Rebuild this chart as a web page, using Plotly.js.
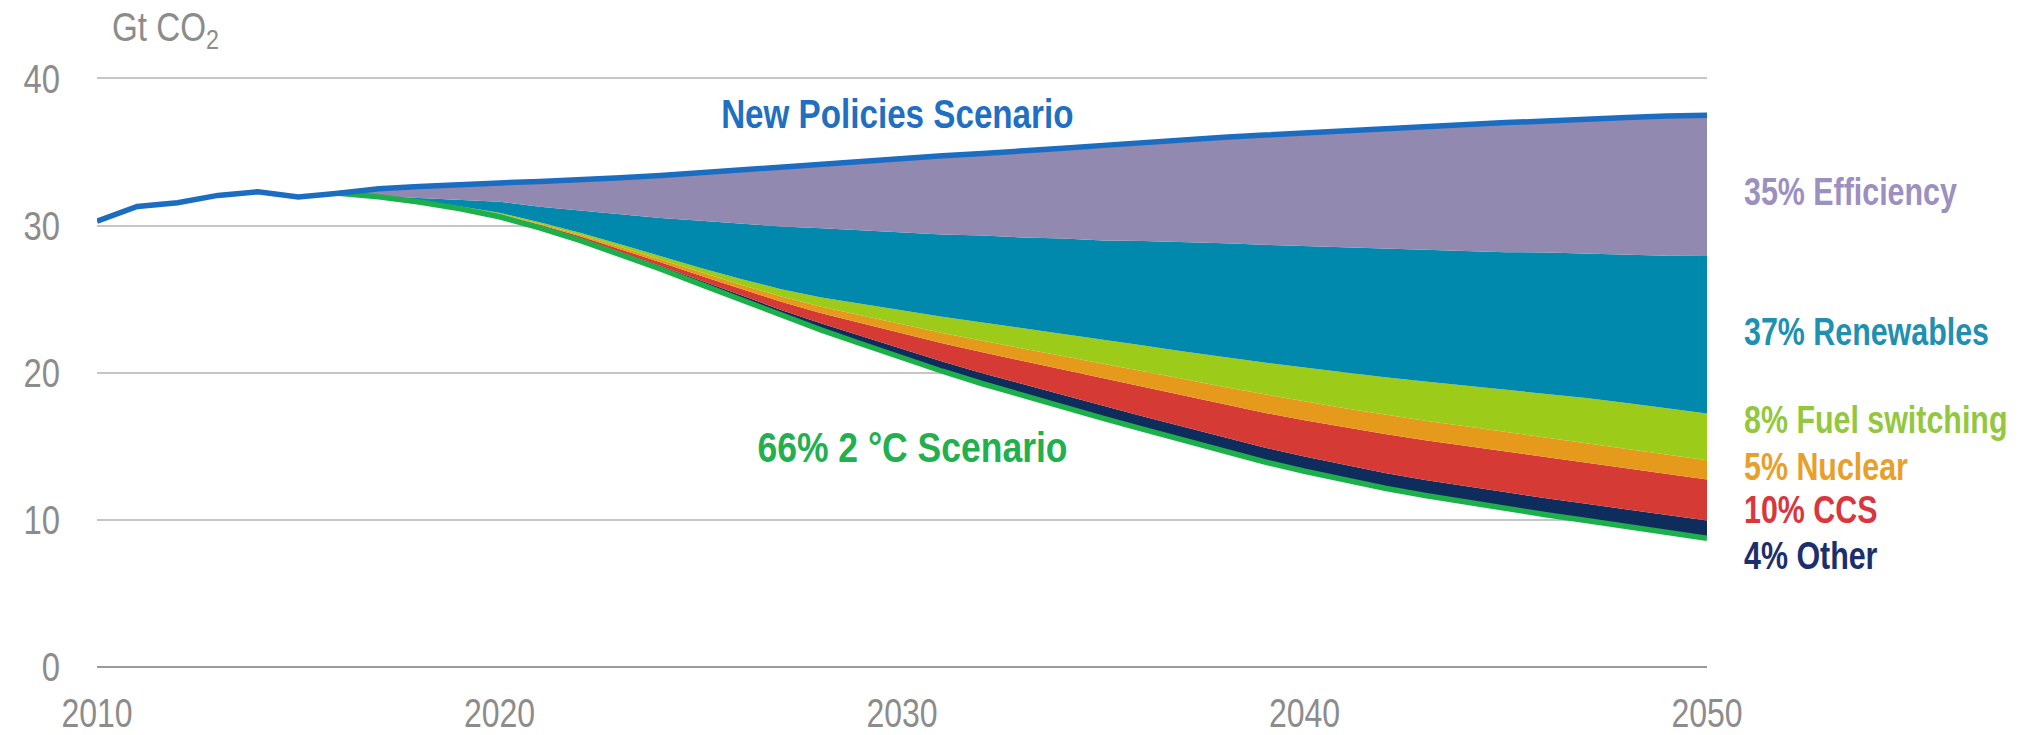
<!DOCTYPE html>
<html><head><meta charset="utf-8">
<script src="https://cdn.plot.ly/plotly-3.0.1.min.js"></script>
<style>html,body{margin:0;padding:0;background:#fff;} #chart{width:2023px;height:735px;}</style>
</head><body><div id="chart"></div>
<script>
// ---- data (Gt CO2) ----
const npsYears = [2010,2011,2012,2013,2014,2015,2016,2017,2018,2019,2020,2021,2022,2023,2024,2025,2026,2027,2028,2029,2030,2031,2032,2033,2034,2035,2036,2037,2038,2039,2040,2041,2042,2043,2044,2045,2046,2047,2048,2049,2050];
const npsValues = [30.3,31.3,31.55,32.05,32.3,31.95,32.2,32.5,32.65,32.8,32.9,33.0,33.1,33.25,33.4,33.6,33.8,34.0,34.2,34.4,34.6,34.75,34.9,35.05,35.25,35.45,35.65,35.85,36.0,36.15,36.3,36.45,36.6,36.75,36.9,37.0,37.1,37.25,37.35,37.45,37.5];
const projYears = [2016,2017,2018,2019,2020,2021,2022,2023,2024,2025,2026,2027,2028,2029,2030,2031,2032,2033,2034,2035,2036,2037,2038,2039,2040,2041,2042,2043,2044,2045,2046,2047,2048,2049,2050];
const twoDegValues = [32.2,31.95,31.6,31.15,30.6,29.85,29.0,28.05,27.05,26.0,24.95,23.9,22.9,21.95,21.0,20.1,19.25,18.45,17.65,16.9,16.15,15.4,14.65,13.95,13.3,12.7,12.15,11.65,11.2,10.75,10.35,9.95,9.55,9.15,8.75];
const otherWedge = [0,0,0.02,0.04,0.07,0.1,0.13,0.17,0.21,0.26,0.31,0.37,0.44,0.52,0.6,0.66,0.72,0.77,0.81,0.85,0.88,0.91,0.94,0.97,1.0,1.02,1.04,1.06,1.08,1.1,1.12,1.14,1.16,1.18,1.2];
const ccsWedge = [0,0,0.02,0.04,0.07,0.1,0.14,0.19,0.25,0.33,0.43,0.55,0.7,0.88,1.06,1.24,1.42,1.58,1.72,1.86,1.99,2.12,2.24,2.36,2.47,2.56,2.64,2.7,2.75,2.79,2.81,2.82,2.82,2.81,2.8];
const nuclearWedge = [0,0,0.02,0.04,0.06,0.08,0.11,0.14,0.18,0.23,0.29,0.36,0.44,0.53,0.62,0.7,0.78,0.86,0.94,1.01,1.08,1.14,1.2,1.25,1.29,1.31,1.32,1.33,1.33,1.33,1.33,1.33,1.32,1.31,1.3];
const fuelSwitchingWedge = [0,0,0.02,0.04,0.07,0.1,0.14,0.18,0.23,0.3,0.39,0.5,0.63,0.78,0.94,1.1,1.25,1.38,1.5,1.62,1.75,1.88,2.02,2.16,2.3,2.42,2.54,2.66,2.77,2.87,2.96,3.04,3.1,3.15,3.18];
const renewablesWedge = [0,0.05,0.2,0.45,0.75,1.05,1.5,2.0,2.6,3.2,3.75,4.25,4.7,5.0,5.3,5.6,5.9,6.15,6.5,6.75,7.1,7.45,7.75,8.0,8.25,8.5,8.75,9.0,9.15,9.35,9.6,9.8,10.05,10.35,10.7];
const wedgeLabels = ['4% Other','10% CCS','5% Nuclear','8% Fuel switching','37% Renewables','35% Efficiency'];
const yTicks = [0,10,20,30,40];
const xTicks = [2010,2020,2030,2040,2050];

// ---- styling ----
const FONT = '"Liberation Sans", Arial, sans-serif';
const wedgeFill = ['#0f2d5c','#d63a35','#e59a1c','#9ccb1a','#0088ad','#9189b0'];
const wedgeText = ['#1c2e6b','#d9363e','#e8a02a','#93c83e','#1e90b2','#9b90bf'];

const traces = [];
traces.push({x: projYears, y: twoDegValues, mode: 'lines', line: {width: 0}, hoverinfo: 'skip', showlegend: false});
const wedges = [otherWedge, ccsWedge, nuclearWedge, fuelSwitchingWedge, renewablesWedge];
let cum = twoDegValues.slice();
wedges.forEach((w, k) => {
  cum = cum.map((v, i) => v + w[i]);
  traces.push({x: projYears, y: cum.slice(), mode: 'lines', line: {width: 0}, fill: 'tonexty', fillcolor: wedgeFill[k], hoverinfo: 'skip', showlegend: false});
});
// Efficiency: gap between renewables top and New Policies Scenario
const npsProj = projYears.map(yr => npsValues[npsYears.indexOf(yr)]);
traces.push({x: projYears, y: npsProj, mode: 'lines', line: {width: 0}, fill: 'tonexty', fillcolor: wedgeFill[5], hoverinfo: 'skip', showlegend: false});
traces.push({x: projYears, y: twoDegValues, mode: 'lines', line: {color: '#1cb04b', width: 5.5}, showlegend: false});
traces.push({x: npsYears, y: npsValues, mode: 'lines', line: {color: '#1a6dc1', width: 5.5}, showlegend: false});

const labelY = [7.57, 10.70, 13.62, 16.78, 22.76, 32.27];
const annotations = wedgeLabels.map((t, k) => ({
  text: t, xref: 'paper', x: 1.0217, xanchor: 'left', yref: 'y', y: labelY[k], yanchor: 'middle',
  showarrow: false, font: {family: FONT, size: 38, color: wedgeText[k], weight: 'bold'}
}));
annotations.push({text: 'New Policies Scenario', xref: 'x', x: 2029.9, yref: 'y', y: 37.6, xanchor: 'center', yanchor: 'middle', showarrow: false, font: {family: FONT, size: 40, color: '#1f6fc2', weight: 'bold'}});
annotations.push({text: '66% 2 °C Scenario', xref: 'x', x: 2030.27, yref: 'y', y: 14.95, xanchor: 'center', yanchor: 'middle', showarrow: false, font: {family: FONT, size: 42, color: '#22b04f', weight: 'bold'}});
annotations.push({text: 'Gt CO<sub>2</sub>', xref: 'paper', x: 0.008, xanchor: 'left', yref: 'paper', y: 1.03, yanchor: 'middle', showarrow: false, font: {family: FONT, size: 40, color: '#8c8c8c'}});
const squeezeAnn = [0.8,0.8,0.8,0.8,0.8,0.8,0.83,0.845,0.83];

const layout = {
  width: 2023, height: 735,
  margin: {l: 97, r: 316, t: 49, b: 68},
  paper_bgcolor: '#ffffff', plot_bgcolor: '#ffffff',
  showlegend: false,
  font: {family: FONT, color: '#8c8c8c', size: 40},
  xaxis: {range: [2010, 2050], tickvals: xTicks, ticktext: xTicks.map(String), showgrid: false, zeroline: false, showline: false, ticks: '', ticklabelstandoff: 19, tickfont: {family: FONT, size: 40, color: '#8c8c8c'}, fixedrange: true},
  yaxis: {range: [0, 42], tickvals: yTicks, ticktext: yTicks.map(String), showgrid: true, gridcolor: '#c6c6c6', gridwidth: 2, zeroline: true, zerolinecolor: '#9a9a9a', zerolinewidth: 2, showline: false, ticks: '', ticklabelstandoff: 36, tickfont: {family: FONT, size: 41, color: '#8c8c8c'}, fixedrange: true},
  annotations: annotations
};

// narrow the text horizontally (the reference uses a condensed face)
function squeezeText(el, s, mode) {
  const bb = el.getBBox();
  const ox = mode === 'left' ? bb.x : (mode === 'right' ? bb.x + bb.width : bb.x + bb.width / 2);
  const prev = el.getAttribute('transform') || '';
  el.setAttribute('transform', prev + ' translate(' + ox + ',0) scale(' + s + ',1) translate(' + (-ox) + ',0)');
}
Plotly.newPlot('chart', traces, layout, {displayModeBar: false, staticPlot: true}).then(gd => {
  gd.querySelectorAll('g.xtick text').forEach(t => squeezeText(t, 0.8, 'center'));
  gd.querySelectorAll('g.ytick text').forEach(t => squeezeText(t, 0.8, 'right'));
  gd.querySelectorAll('g.annotation').forEach(g => {
    const idx = +g.getAttribute('data-index');
    const a = layout.annotations[idx];
    const t = g.querySelector('text.annotation-text');
    if (t && a) squeezeText(t, squeezeAnn[idx], a.xanchor === 'left' ? 'left' : 'center');
  });
});
</script></body></html>
